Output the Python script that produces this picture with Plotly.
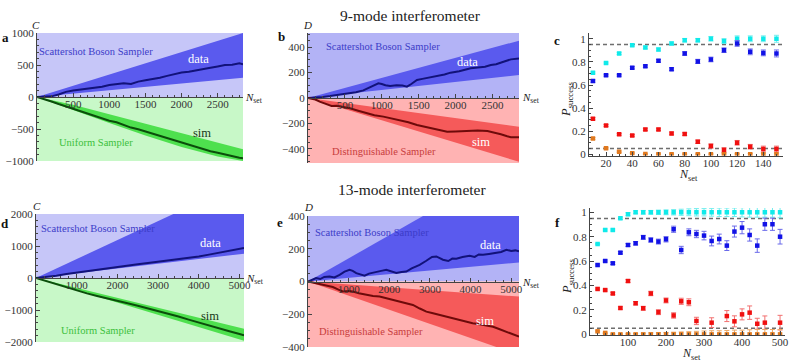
import plotly.graph_objects as go

W, H = 789, 361

# ---------------- panel a (9-mode, C) ----------------
a_n = [0, 100, 200, 300, 400, 500, 600, 700, 800, 900, 1000, 1100, 1200, 1300, 1400, 1500,
       1600, 1700, 1800, 1900, 2000, 2100, 2200, 2300, 2400, 2500, 2600, 2700, 2800, 2850]
a_data = [0, 2, 10, 40, 80, 100, 115, 128, 140, 160, 188, 200, 215, 205, 240, 262,
          280, 300, 330, 360, 382, 395, 420, 440, 458, 478, 500, 505, 526, 512]
a_sim = [0, -30, -70, -110, -148, -180, -215, -260, -300, -340, -370, -395, -440, -478, -505, -540,
         -565, -610, -645, -680, -715, -752, -785, -810, -848, -870, -900, -920, -948, -958]
a_band_n = [0, 2850]
a_data_hi = [0, 1000]
a_data_lo = [0, 300]
a_sim_band_n = [0, 500, 1000, 1500, 2000, 2500, 2850]
a_sim_hi = [0, -120, -270, -420, -570, -715, -817]
a_sim_lo = [0, -205, -405, -600, -780, -930, -1000]

# ---------------- panel b (9-mode, D) ----------------
b_data_n = [0, 100, 200, 300, 400, 500, 567, 650, 750, 850, 954, 1000, 1050, 1113, 1200, 1280, 1341,
            1400, 1477, 1550, 1650, 1750, 1850, 1932, 2050, 2205, 2300, 2400, 2478, 2550, 2650, 2750, 2860]
b_data = [0, 2, 8, 15, 22, 30, 37, 45, 60, 85, 115, 110, 100, 94, 100, 98, 89,
          110, 141, 150, 160, 172, 185, 199, 210, 233, 240, 245, 259, 265, 285, 303, 310]
b_sim_n = [0, 100, 158, 250, 320, 386, 480, 568, 680, 795, 900, 1022, 1130, 1250, 1360, 1477, 1590,
           1704, 1800, 1886, 2000, 2160, 2300, 2432, 2520, 2614, 2700, 2750, 2860]
b_sim = [0, -12, -29, -45, -62, -60, -70, -81, -100, -120, -135, -146, -160, -172, -190, -212, -225,
         -238, -250, -264, -262, -259, -255, -259, -270, -285, -300, -308, -308]
b_band_n = [0, 2860]
b_data_hi = [0, 450]
b_data_lo = [0, 180]
b_sim_hi = [0, -225]
b_sim_lo = [0, -500]

# ---------------- panel c (9-mode, P_success) ----------------
c_n = [10, 20, 30, 40, 50, 60, 70, 80, 90, 100, 110, 120, 130, 140, 150]
c_cyan = [0.705, 0.79, 0.873, 0.945, 0.925, 0.907, 0.96, 0.988, 0.988, 1.0, 0.98, 1.0, 1.0, 1.0, 1.0]
c_cyan_err = [0.008, 0.008, 0.01, 0.01, 0.012, 0.012, 0.012, 0.015, 0.015, 0.02, 0.02, 0.025, 0.025, 0.025, 0.03]
c_blue = [0.634, 0.685, 0.685, 0.749, 0.763, 0.809, 0.737, 0.873, 0.804, 0.821, 0.901, 0.96, 0.887, 0.878, 0.873]
c_blue_err = [0.01, 0.008, 0.008, 0.01, 0.01, 0.012, 0.012, 0.015, 0.018, 0.02, 0.02, 0.025, 0.025, 0.025, 0.03]
c_red = [0.308, 0.25, 0.173, 0.164, 0.216, 0.216, 0.181, 0.175, 0.109, 0.072, 0.037, 0.10, 0.066, 0.046, 0.046]
c_red_err = [0.01, 0.008, 0.008, 0.008, 0.01, 0.01, 0.012, 0.012, 0.015, 0.018, 0.02, 0.02, 0.02, 0.025, 0.025]
c_orange = [0.138, 0.052, 0.023, 0.009, 0.002, 0.0, 0.0, 0.0, 0.0, 0.0, 0.0, 0.0, 0.0, 0.0, 0.0]
c_orange_err = [0.008, 0.006, 0.006, 0.005, 0.004, 0.004, 0.004, 0.004, 0.004, 0.005, 0.006, 0.006, 0.008, 0.01, 0.01]

# ---------------- panel d (13-mode, C) ----------------
d_n = [0, 250, 500, 750, 1000, 1250, 1500, 1750, 2000, 2250, 2500, 2750, 3000, 3250, 3500,
       3750, 4000, 4250, 4500, 4750, 5000, 5110]
d_data = [0, 25, 70, 125, 170, 215, 265, 310, 360, 395, 430, 470, 510, 545, 580,
          620, 670, 730, 790, 845, 905, 938]
d_sim = [0, -95, -195, -300, -390, -480, -560, -630, -710, -790, -870, -950, -1030, -1110, -1205,
         -1300, -1395, -1480, -1570, -1665, -1750, -1793]
d_band_n = [0, 5110]
d_data_hi = [0, 3030]
d_data_lo = [0, 760]
d_sim_hi = [0, -1584]
d_sim_lo = [0, -1959]

# ---------------- panel e (13-mode, D) ----------------
e_data_n = [0, 100, 200, 300, 400, 531, 650, 777, 900, 1022, 1100, 1187, 1300, 1392, 1500, 1600, 1680,
            1800, 1926, 2050, 2172, 2300, 2418, 2550, 2650, 2746, 2900, 3050, 3157, 3250, 3320, 3450,
            3550, 3649, 3800, 3977, 4100, 4200, 4305, 4450, 4634, 4750, 4880, 5000, 5100, 5190]
e_data = [0, 10, 21, 15, 28, 31, 25, 41, 60, 72, 65, 51, 40, 35, 48, 55, 61,
          65, 72, 60, 52, 58, 61, 80, 90, 102, 125, 150, 153, 140, 133, 125,
          140, 139, 150, 157, 150, 165, 163, 168, 174, 180, 194, 186, 190, 184]
e_sim_n = [0, 150, 283, 450, 611, 750, 857, 1000, 1104, 1250, 1432, 1600, 1761, 1900, 2089, 2253,
           2400, 2581, 2750, 2911, 3050, 3239, 3400, 3567, 3750, 3896, 4050, 4224, 4400, 4552, 4700,
           4882, 5050, 5190]
e_sim = [0, -8, -14, -25, -34, -50, -61, -58, -61, -72, -81, -88, -92, -100, -112, -122,
         -128, -143, -165, -184, -192, -204, -212, -224, -236, -245, -255, -261, -268, -276, -290,
         -306, -322, -337]
e_band_n = [0, 5190]
e_data_hi = [0, 734]
e_data_lo = [0, 116]
e_sim_hi = [0, -92]
e_sim_lo = [0, -448]

# ---------------- panel f (13-mode, P_success) ----------------
f_n = [20, 40, 60, 80, 100, 120, 140, 160, 180, 200, 220, 240, 260, 280, 300, 320, 340, 360, 380, 400,
       420, 440, 460, 480, 500]
f_cyan = [0.74, 0.855, 0.855, 0.951, 0.984, 1.0, 1.0, 1.0, 1.0, 1.0, 1.0, 1.0, 1.0, 1.0, 1.0, 1.0, 1.0,
          1.0, 1.0, 1.0, 1.0, 1.0, 1.0, 1.0, 1.0]
f_cyan_err = [0.005, 0.008, 0.008, 0.01, 0.012, 0.012, 0.015, 0.015, 0.018, 0.02, 0.022, 0.025, 0.028,
              0.03, 0.03, 0.032, 0.035, 0.035, 0.035, 0.038, 0.04, 0.04, 0.04, 0.04, 0.045]
f_blue = [0.568, 0.601, 0.582, 0.669, 0.732, 0.746, 0.795, 0.773, 0.76, 0.779, 0.861, 0.691, 0.836, 0.822,
          0.809, 0.765, 0.781, 0.727, 0.842, 0.874, 0.814, 0.727, 0.902, 0.902, 0.8]
f_blue_err = [0.008, 0.008, 0.01, 0.01, 0.012, 0.014, 0.016, 0.018, 0.02, 0.022, 0.025, 0.03, 0.028, 0.03,
              0.035, 0.04, 0.04, 0.04, 0.045, 0.05, 0.05, 0.055, 0.05, 0.05, 0.06]
f_red = [0.372, 0.363, 0.335, 0.216, 0.437, 0.255, 0.214, 0.335, 0.182, 0.278, 0.155, 0.271, 0.263, 0.11,
         None, 0.096, None, 0.15, 0.107, 0.164, 0.178, 0.087, 0.096, None, 0.096]
f_red_err = [0.008, 0.008, 0.01, 0.01, 0.012, 0.014, 0.016, 0.018, 0.02, 0.02, 0.022, 0.025, 0.028, 0.03,
             0, 0.04, 0, 0.045, 0.045, 0.045, 0.055, 0.045, 0.055, 0, 0.06]
f_orange = [0.025, 0.012, 0.0, 0.0, 0.0, 0.0, 0.0, 0.0, 0.0, 0.0, 0.0, 0.0, 0.0, 0.0, 0.0, 0.0, 0.0, 0.0,
            0.0, 0.0, 0.0, 0.0, 0.0, 0.0, 0.0]
f_orange_err = [0.005, 0.005, 0.004, 0.004, 0.006, 0.008, 0.01, 0.012, 0.014, 0.016, 0.018, 0.02, 0.022,
                0.025, 0.028, 0.03, 0.03, 0.032, 0.035, 0.035, 0.038, 0.04, 0.04, 0.04, 0.04]

thresholds = [0.95, 0.05]

SERIF = "Liberation Serif, Times New Roman, serif"
LIGHT_BLUE = "#c6c6f8"
LIGHT_BLUE2 = "#b3b3f6"
MID_BLUE = "#5a5aee"
LIGHT_GREEN = "#c8f8c8"
MID_GREEN = "#4ee04e"
LIGHT_RED = "#ffb3b3"
MID_RED = "#f55a5a"
NAVY = "#12127a"
DKGREEN = "#0b4d0b"
DKRED = "#6e0a0a"


def xdom(x0, x1):
    return [x0 / W, x1 / W]


def ydom(top, bottom):
    return [1 - bottom / H, 1 - top / H]


fig = go.Figure()


def line(xs, ys, ax, color, width=0, fill=None, fillcolor=None):
    fig.add_trace(go.Scatter(
        x=xs, y=ys, xaxis="x" + ax, yaxis="y" + ax, mode="lines",
        line=dict(color=color, width=width), fill=fill, fillcolor=fillcolor,
        hoverinfo="skip", showlegend=False))


def walk_panel(ax, xmax, ylim, top_bg, bot_bg, band_n, hi, lo, sband_n, shi, slo, bot_mid,
               dn, dy, sn, sy, sim_color):
    line([0, xmax], [ylim, ylim], ax, top_bg, fill="tozeroy", fillcolor=top_bg)
    line([0, xmax], [-ylim, -ylim], ax, bot_bg, fill="tozeroy", fillcolor=bot_bg)
    line(band_n, lo, ax, MID_BLUE)
    line(band_n, hi, ax, MID_BLUE, fill="tonexty", fillcolor=MID_BLUE)
    line(sband_n, shi, ax, bot_mid)
    line(sband_n, slo, ax, bot_mid, fill="tonexty", fillcolor=bot_mid)
    line(dn, dy, ax, NAVY, width=2)
    line(sn, sy, ax, sim_color, width=2)


walk_panel("", 2850, 1000, LIGHT_BLUE, LIGHT_GREEN, a_band_n, a_data_hi, a_data_lo,
           a_sim_band_n, a_sim_hi, a_sim_lo, MID_GREEN, a_n, a_data, a_n, a_sim, DKGREEN)
walk_panel("2", 2860, 510, LIGHT_BLUE2, LIGHT_RED, b_band_n, b_data_hi, b_data_lo,
           b_band_n, b_sim_hi, b_sim_lo, MID_RED, b_data_n, b_data, b_sim_n, b_sim, DKRED)
walk_panel("4", 5110, 2000, LIGHT_BLUE, LIGHT_GREEN, d_band_n, d_data_hi, d_data_lo,
           d_band_n, d_sim_hi, d_sim_lo, MID_GREEN, d_n, d_data, d_n, d_sim, DKGREEN)
walk_panel("5", 5190, 400, LIGHT_BLUE2, LIGHT_RED, e_band_n, e_data_hi, e_data_lo,
           e_band_n, e_sim_hi, e_sim_lo, MID_RED, e_data_n, e_data, e_sim_n, e_sim, DKRED)


def points(ax, xs, ys, err, color, ecolor):
    fig.add_trace(go.Scatter(
        x=xs, y=ys, xaxis="x" + ax, yaxis="y" + ax, mode="markers",
        marker=dict(color=color, size=4.5, symbol="square"),
        error_y=dict(type="data", array=err, color=ecolor, thickness=1, width=2.5),
        hoverinfo="skip", showlegend=False))


def success_panel(ax, xr, n, series):
    for t in thresholds:
        fig.add_trace(go.Scatter(
            x=xr, y=[t, t], xaxis="x" + ax, yaxis="y" + ax, mode="lines",
            line=dict(color="#6e6e6e", width=1.5, dash="4px,3px"),
            hoverinfo="skip", showlegend=False))
    for ys, err, c, ec in series:
        points(ax, n, ys, err, c, ec)


CYAN, CYAN_E = "#10eaea", "#70eeee"
BLUE, BLUE_E = "#1212e6", "#6a6aea"
RED, RED_E = "#f01010", "#f27070"
ORANGE, ORANGE_E = "#e0781e", "#eaa868"

success_panel("3", [7, 155], c_n, [
    (c_cyan, c_cyan_err, CYAN, CYAN_E), (c_blue, c_blue_err, BLUE, BLUE_E),
    (c_red, c_red_err, RED, RED_E), (c_orange, c_orange_err, ORANGE, ORANGE_E)])
success_panel("6", [0, 513], f_n, [
    (f_cyan, f_cyan_err, CYAN, CYAN_E), (f_blue, f_blue_err, BLUE, BLUE_E),
    (f_red, f_red_err, RED, RED_E), (f_orange, f_orange_err, ORANGE, ORANGE_E)])

tickfont = dict(family=SERIF, size=11, color="#333")
axis_common = dict(showgrid=False, zeroline=False, showline=True, linecolor="#444", linewidth=1,
                   ticks="inside", ticklen=4, tickcolor="#444", tickfont=tickfont,
                   automargin=False, fixedrange=True)


def minus(v):
    return str(v) if v >= 0 else "\u2212" + str(-v)


def walk_axes(ax, xd, yd, xmax, ylim, xt, yt, mx, my):
    kx = "xaxis" + ax
    ky = "yaxis" + ax
    pos = (yd[0] + yd[1]) / 2
    fig.layout[kx] = dict(axis_common, domain=xd, range=[0, xmax], anchor="free", position=pos,
                          tickvals=xt, ticktext=[str(v) for v in xt], ticklabelstandoff=-3,
                          minor=dict(ticks="inside", ticklen=2, dtick=mx, tickcolor="#444"))
    fig.layout[ky] = dict(axis_common, domain=yd, range=[-ylim, ylim], anchor="x" + ax,
                          tickvals=yt, ticktext=[minus(v) for v in yt],
                          minor=dict(ticks="inside", ticklen=2, dtick=my, tickcolor="#444"))


walk_axes("", xdom(37, 243), ydom(33, 161), 2850, 1000, [500, 1000, 1500, 2000, 2500],
          [-1000, -500, 0, 500, 1000], 100, 100)
walk_axes("2", xdom(308, 519), ydom(33, 163), 2860, 510, [500, 1000, 1500, 2000, 2500],
          [-400, -200, 0, 200, 400], 100, 50)
walk_axes("4", xdom(36, 244), ydom(214, 342), 5110, 2000, [1000, 2000, 3000, 4000, 5000],
          [-2000, -1000, 0, 1000, 2000], 200, 200)
walk_axes("5", xdom(308, 519), ydom(216, 347), 5190, 400, [1000, 2000, 3000, 4000, 5000],
          [-400, -200, 0, 200, 400], 200, 50)

ps_ticks = [0, 0.2, 0.4, 0.6, 0.8, 1]
ps_text = ["0", "0.2", "0.4", "0.6", "0.8", "1"]
fig.layout["xaxis3"] = dict(axis_common, domain=xdom(589, 783), range=[7, 155], anchor="y3",
                            tickvals=[20, 40, 60, 80, 100, 120, 140], ticklabelstandoff=-3,
                            minor=dict(ticks="inside", ticklen=2, dtick=5, tickcolor="#444"))
fig.layout["yaxis3"] = dict(axis_common, domain=ydom(33, 155.5), range=[-0.01, 1.05], anchor="x3",
                            tickvals=ps_ticks, ticktext=ps_text,
                            minor=dict(ticks="inside", ticklen=2, dtick=0.05, tickcolor="#444"))
fig.layout["xaxis6"] = dict(axis_common, domain=xdom(590, 785), range=[0, 513], anchor="y6",
                            tickvals=[100, 200, 300, 400, 500], ticklabelstandoff=-3,
                            minor=dict(ticks="inside", ticklen=2, dtick=20, tickcolor="#444"))
fig.layout["yaxis6"] = dict(axis_common, domain=ydom(208, 335), range=[-0.005, 1.035], anchor="x6",
                            tickvals=ps_ticks, ticktext=ps_text,
                            minor=dict(ticks="inside", ticklen=2, dtick=0.05, tickcolor="#444"))

ann = []


def text(x, y, s, size=10.5, color="#222", **kw):
    ann.append(dict(x=x / W, y=1 - y / H, xref="paper", yref="paper", text=s,
                    showarrow=False, xanchor="center", yanchor="middle",
                    font=dict(family=SERIF, size=size, color=color), **kw))


text(410, 15, "9-mode interferometer", size=15.5)
text(412, 189, "13-mode interferometer", size=15.5)

for lx, ly, s in [(5, 37, "a"), (281, 36, "b"), (557, 40, "c"),
                  (5, 223, "d"), (280, 222, "e"), (557, 222, "f")]:
    text(lx, ly, "<b>" + s + "</b>", size=13, color="#111")

for lx, ly, s in [(36, 25, "C"), (307, 25, "D"), (37, 206, "C"), (308, 207, "D")]:
    text(lx, ly, "<i>" + s + "</i>", size=11)

nset = "<i>N</i><sub>set</sub>"
for lx, ly in [(254, 98), (531, 98), (255, 279), (531, 283)]:
    text(lx, ly, nset, size=11)
text(688, 175, nset, size=12)
text(691, 354, nset, size=12)
text(567, 100, "<i>P</i><sub>success</sub>", size=12.5, textangle=-90)
text(568, 277, "<i>P</i><sub>success</sub>", size=12.5, textangle=-90)

SBS = "#3c3cc8"
text(96, 52, "Scattershot Boson Sampler", color=SBS)
text(383, 46, "Scattershot Boson Sampler", color=SBS)
text(98, 228, "Scattershot Boson Sampler", color=SBS)
text(372, 232, "Scattershot Boson Sampler", color=SBS)
text(96, 142, "Uniform Sampler", color="#3cc03c")
text(98, 330, "Uniform Sampler", color="#3cc03c")
text(384, 151, "Distinguishable Sampler", color="#c83c3c")
text(371, 331, "Distinguishable Sampler", color="#c83c3c")
for lx, ly in [(199, 59), (467, 62), (210, 243), (490, 245)]:
    text(lx, ly, "data", size=12.5, color="white")
text(202, 133, "sim", size=12.5, color="#183818")
text(210, 316, "sim", size=12.5, color="#183818")
text(481, 142, "sim", size=12.5, color="white")
text(485, 321, "sim", size=12.5, color="white")

fig.update_layout(width=W, height=H, margin=dict(l=0, r=0, t=0, b=0),
                  paper_bgcolor="white", plot_bgcolor="white", annotations=ann,
                  font=dict(family=SERIF))

# the page body has a default 8px margin; drop it so the figure fills the window
fig.write_html("out.html", config={"displayModeBar": False},
               post_script="document.body.style.margin = '0';")
